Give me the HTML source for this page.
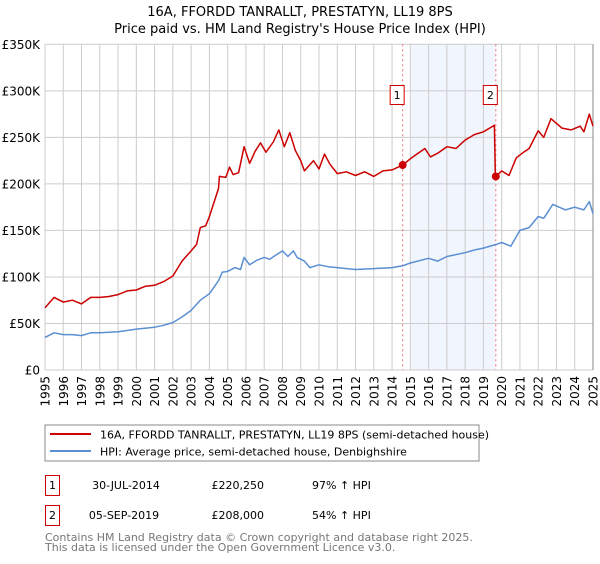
<!DOCTYPE html>
<html><head><meta charset="utf-8"><style>
body{margin:0;background:#fff;width:600px;height:560px;overflow:hidden;font-family:"DejaVu Sans","Liberation Sans",sans-serif;}
svg text{font-family:"DejaVu Sans","Liberation Sans",sans-serif;}
</style></head><body>
<svg id="chart" width="600" height="560" xmlns="http://www.w3.org/2000/svg">
<text x="300" y="16" text-anchor="middle" font-size="13" fill="#000">16A, FFORDD TANRALLT, PRESTATYN, LL19 8PS</text>
<text x="300" y="33" text-anchor="middle" font-size="13" fill="#000">Price paid vs. HM Land Registry's House Price Index (HPI)</text>
<g id="grid"></g><g id="axes"></g><g id="series"></g>
<rect x="45" y="425" width="434" height="36" fill="#fff" stroke="#888"/>
<line x1="50" y1="434" x2="91" y2="434" stroke="#cc0000" stroke-width="2"/>
<text x="100" y="438.5" font-size="11">16A, FFORDD TANRALLT, PRESTATYN, LL19 8PS (semi-detached house)</text>
<line x1="50" y1="451" x2="91" y2="451" stroke="#5b8fd4" stroke-width="2"/>
<text x="100" y="455.5" font-size="11">HPI: Average price, semi-detached house, Denbighshire</text>
<g font-size="11">
<rect x="45.5" y="475.5" width="14" height="20" fill="#fff" stroke="#cc0000"/>
<text x="52.5" y="489" text-anchor="middle">1</text>
<text x="126" y="489" text-anchor="middle">30-JUL-2014</text>
<text x="264" y="489" text-anchor="end">£220,250</text>
<text x="312" y="489">97% ↑ HPI</text>
<rect x="45.5" y="505.5" width="14" height="20" fill="#fff" stroke="#cc0000"/>
<text x="52.5" y="519" text-anchor="middle">2</text>
<text x="124" y="519" text-anchor="middle">05-SEP-2019</text>
<text x="264" y="519" text-anchor="end">£208,000</text>
<text x="312" y="519">54% ↑ HPI</text>
</g>
<text x="45" y="541" font-size="11" fill="#777">Contains HM Land Registry data © Crown copyright and database right 2025.</text>
<text x="45" y="551" font-size="11" fill="#777">This data is licensed under the Open Government Licence v3.0.</text>
</svg>
<script>
const yearTicks=[1995,1996,1997,1998,1999,2000,2001,2002,2003,2004,2005,2006,2007,2008,2009,2010,2011,2012,2013,2014,2015,2016,2017,2018,2019,2020,2021,2022,2023,2024,2025];
const priceTicks=[0,50000,100000,150000,200000,250000,300000,350000];
const priceTickLabels=["£0","£50K","£100K","£150K","£200K","£250K","£300K","£350K"];
const hpiDates=[1995,1995.5,1996,1996.5,1997,1997.5,1998,1999,2000,2001,2001.5,2002,2002.5,2003,2003.5,2004,2004.5,2004.7,2005,2005.4,2005.7,2005.9,2006.2,2006.6,2007,2007.3,2007.6,2008,2008.3,2008.6,2008.8,2009.2,2009.5,2010,2010.5,2011,2012,2013,2014,2014.58,2015,2016,2016.5,2017,2018,2018.5,2019,2019.7,2020,2020.5,2021,2021.5,2022,2022.3,2022.8,2023.5,2024,2024.5,2024.8,2025];
const hpiValues=[35000,40000,38000,38000,37000,40000,40000,41000,44000,46000,48000,51000,57000,64000,75000,82000,96000,105000,106000,110000,108000,121000,113000,118000,121000,119000,123000,128000,122000,128000,121000,117000,110000,113000,111000,110000,108000,109000,110000,112000,115000,120000,117000,122000,126000,129000,131000,135000,137000,133000,150000,153000,165000,163000,178000,172000,175000,172000,181000,168000];
const propDates=[1995,1995.5,1996,1996.5,1997,1997.5,1998,1998.5,1999,1999.5,2000,2000.5,2001,2001.5,2002,2002.5,2003,2003.3,2003.5,2003.8,2004,2004.5,2004.55,2004.9,2005.1,2005.3,2005.6,2005.9,2006.2,2006.5,2006.8,2007.1,2007.5,2007.8,2008.1,2008.4,2008.7,2009,2009.2,2009.7,2010,2010.3,2010.6,2011,2011.5,2012,2012.5,2013,2013.5,2014,2014.58,2015,2015.8,2016.1,2016.5,2017,2017.5,2018,2018.5,2019,2019.6,2019.65,2019.68,2020,2020.4,2020.8,2021.2,2021.5,2022,2022.3,2022.7,2023.3,2023.8,2024.3,2024.5,2024.8,2025];
const propValues=[67000,78000,73000,75000,71000,78000,78000,79000,81000,85000,86000,90000,91000,95000,101000,117000,128000,135000,153000,155000,165000,195000,208000,207000,218000,210000,212000,240000,222000,235000,244000,234000,245000,258000,240000,255000,236000,225000,214000,225000,216000,232000,221000,211000,213000,209000,213000,208000,214000,215000,220250,227000,238000,229000,233000,240000,238000,247000,253000,256000,263000,210000,208000,214000,209000,228000,234000,238000,257000,250000,270000,260000,258000,262000,256000,275000,262000];
const saleDates=[2014.58,2019.68];
const saleValues=[220250,208000];
const saleLabels=["1","2"];

const X0=45,X1=593,Y0=370,Y1=44.3;
const xs=d=>X0+(d-1995)/(2025-1995)*(X1-X0);
const ys=v=>Y0-v/350000*(Y0-Y1);
const NS="http://www.w3.org/2000/svg";
function mk(tag,attrs,parent){const e=document.createElementNS(NS,tag);for(const k in attrs)e.setAttribute(k,attrs[k]);parent.appendChild(e);return e;}
const grid=document.getElementById('grid'),axes=document.getElementById('axes'),series=document.getElementById('series');
// shading between sales
const sh=mk('rect',{x:xs(2015.05),y:Y1,width:xs(saleDates[1])-xs(2015.05),height:Y0-Y1,fill:'#eef2fc',opacity:0.8},grid);


yearTicks.forEach(y=>{const l=mk('line',{x1:xs(y),x2:xs(y),y1:Y1,y2:Y0,stroke:'#ccc','stroke-width':1},grid);


const t=mk('text',{x:0,y:0,'font-size':12,'text-anchor':'end',transform:`translate(${xs(y)+4.5},${Y0+6}) rotate(-90)`},axes);t.textContent=y;

});
priceTicks.forEach((v,i)=>{const l=mk('line',{x1:X0,x2:X1,y1:ys(v),y2:ys(v),stroke:'#ccc','stroke-width':1},grid);


const t=mk('text',{x:X0-5,y:ys(v)+4.5,'font-size':12,'text-anchor':'end'},axes);t.textContent=priceTickLabels[i];

});
const rb=mk('line',{x1:X1,x2:X1,y1:Y1,y2:Y0,stroke:'#888','stroke-width':1},axes);


saleDates.forEach((d,i)=>{const l=mk('line',{x1:xs(d),x2:xs(d),y1:Y1,y2:Y0,stroke:'#f07070','stroke-width':1,'stroke-dasharray':'2,3'},grid);

});
function path(ds,vs,color,name){const p=mk('path',{d:ds.map((d,i)=>(i?'L':'M')+xs(d).toFixed(1)+','+ys(vs[i]).toFixed(1)).join(''),fill:'none',stroke:color,'stroke-width':1.5,'stroke-linejoin':'round'},series);

}
path(hpiDates,hpiValues,'#5b8fd4','hpi-line');
path(propDates,propValues,'#cc0000','property-price-line');
saleDates.forEach((d,i)=>{const c=mk('circle',{cx:xs(d),cy:ys(saleValues[i]),r:4,fill:'#cc0000'},series);


const bx=xs(d)-12;const r=mk('rect',{x:bx-0.5,y:85.5,width:14,height:19,fill:'#fff',stroke:'#cc0000'},series);


const t=mk('text',{x:bx+6.5,y:99,'font-size':11,'text-anchor':'middle'},series);t.textContent=saleLabels[i];

});
</script>
</body></html>
